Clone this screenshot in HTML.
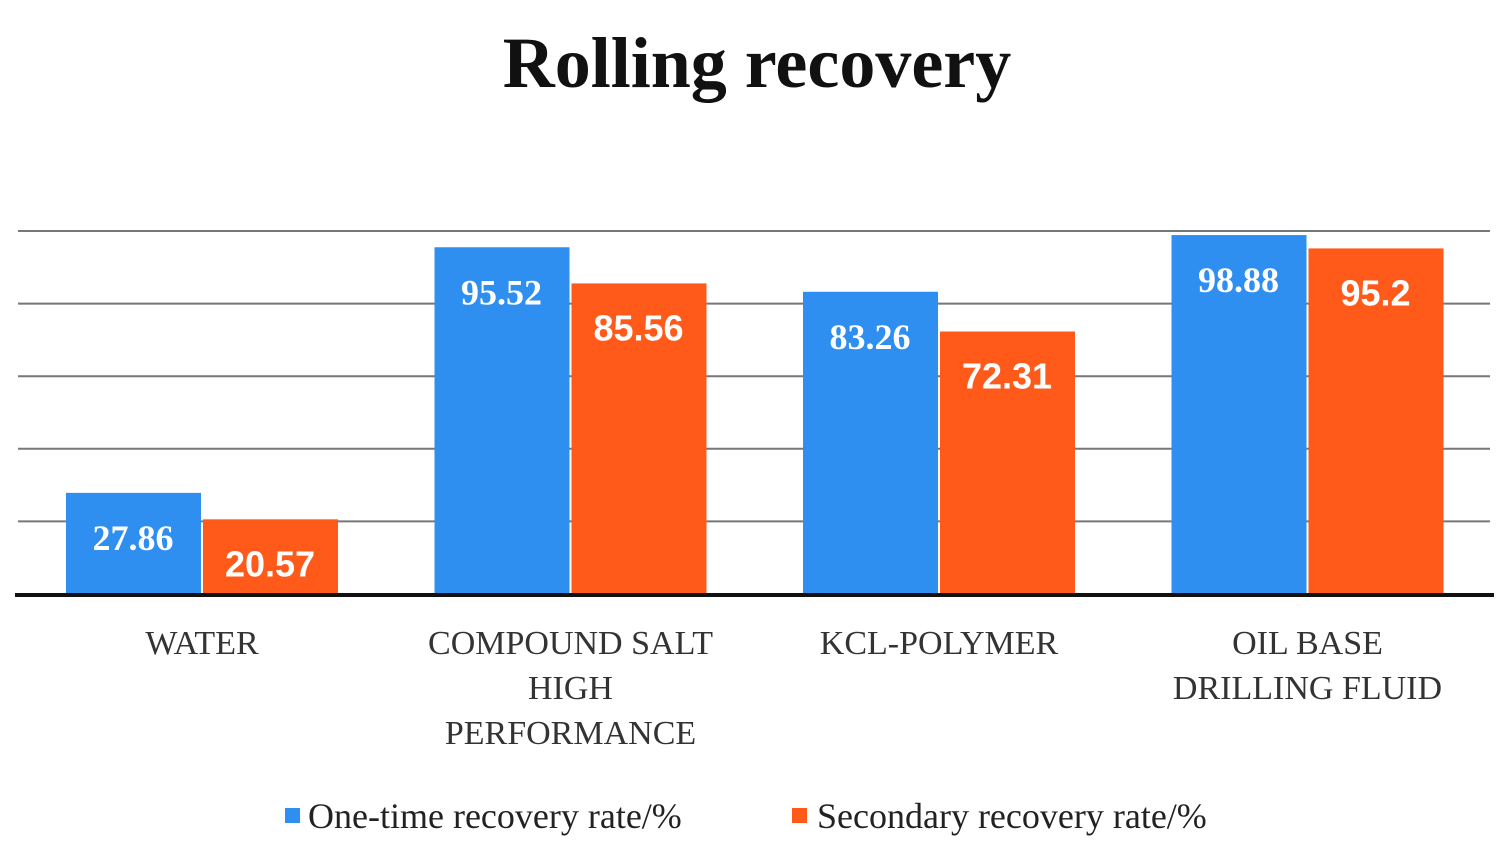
<!DOCTYPE html>
<html><head><meta charset="utf-8"><style>
body{margin:0;background:#fff;width:1512px;height:845px;overflow:hidden}
svg{display:block}
</style></head><body>
<svg id="chart" width="1512" height="845" xmlns="http://www.w3.org/2000/svg">
<text x="757" y="87" text-anchor="middle" font-family="Liberation Serif, serif" font-weight="bold" font-size="72" fill="#111">Rolling recovery</text>
<g id="grid"></g><g id="bars"></g><g id="cats"></g>
<line x1="15" y1="595" x2="1494" y2="595" stroke="#111" stroke-width="4"/>
<g>
<rect x="285" y="808" width="15" height="15" fill="#2f8ff0"/>
<text x="308" y="828" font-family="Liberation Serif, serif" font-size="36" fill="#222">One-time recovery rate/%</text>
<rect x="792" y="808" width="15" height="15" fill="#ff5a1a"/>
<text x="817" y="828" font-family="Liberation Serif, serif" font-size="36" fill="#222">Secondary recovery rate/%</text>
</g>
</svg>
<script>
const categories=[["WATER"],["COMPOUND SALT","HIGH","PERFORMANCE"],["KCL-POLYMER"],["OIL BASE","DRILLING FLUID"]];
const oneTime=[27.86,95.52,83.26,98.88];
const secondary=[20.57,85.56,72.31,95.2];
const ticks=[0,20,40,60,80,100];
const ns="http://www.w3.org/2000/svg";
const y0=594,pxPer=3.63;
function y(v){return y0-v*pxPer;}
function cx(i){return 202+i*368.5;}
function mk(t,a,p){const e=document.createElementNS(ns,t);for(const k in a)e.setAttribute(k,a[k]);p.appendChild(e);return e;}
const g=document.getElementById('grid');
ticks.slice(1).forEach(t=>{const l=mk('line',{x1:18,x2:1490,y1:y(t),y2:y(t),stroke:'#777','stroke-width':2},g);

});
const b=document.getElementById('bars');
const series=[[oneTime,'#2f8ff0',-136,'Liberation Serif, serif','one-time'],[secondary,'#ff5a1a',1,'Liberation Sans, sans-serif','secondary']];
categories.forEach((c,i)=>{series.forEach(s=>{const v=s[0][i];const x=cx(i)+s[2];
const r=mk('rect',{x:x,y:y(v),width:135,height:y0-y(v),fill:s[1]},b);


const t=mk('text',{x:x+67,y:y(v)+57,'text-anchor':'middle','font-family':s[3],'font-weight':'bold','font-size':36,fill:'#fff'},b);
t.textContent=v;

});
const ct=document.getElementById('cats');
c.forEach((line,j)=>{const t=mk('text',{x:cx(i),y:654+j*45,'text-anchor':'middle','font-family':'Liberation Serif, serif','font-size':34,fill:'#333'},ct);
t.textContent=line;

});});
</script>
</body></html>
